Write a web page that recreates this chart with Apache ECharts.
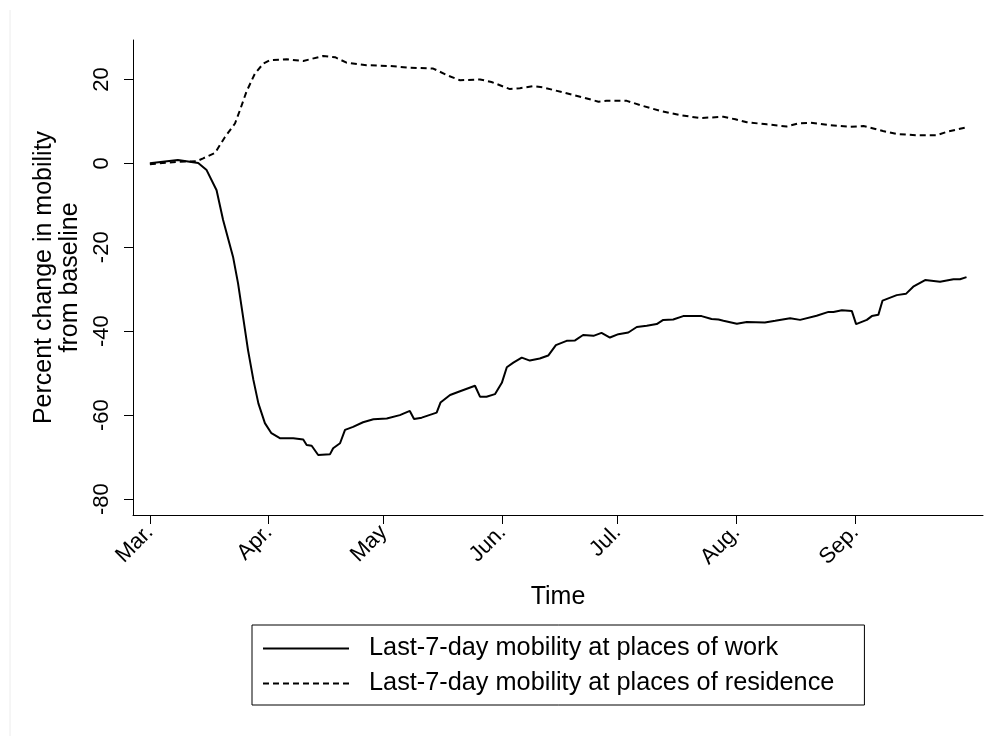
<!DOCTYPE html>
<html>
<head>
<meta charset="utf-8">
<script src="https://cdn.jsdelivr.net/npm/echarts@6/dist/echarts.min.js"></script>
<style>
  html, body { margin: 0; padding: 0; background: #fff; }
  #chart { width: 997px; height: 736px; }
</style>
</head>
<body>
<div id="chart"></div>
<script>
// x values are days since Mar. 1 (day 0)
const monthDays = [0, 31, 61, 92, 122, 153, 184];
const monthLabels = ['Mar.', 'Apr.', 'May', 'Jun.', 'Jul.', 'Aug.', 'Sep.'];
const yTicks = [-80, -60, -40, -20, 0, 20];

// Last-7-day mobility at places of work
const workDays = [0, 7.3, 10.4, 12.6, 14.8, 17.4, 19.1, 21.7, 23.0, 24.3, 25.6, 27.0, 28.3, 30.0, 31.7,
  33.9, 37.4, 40.0, 40.9, 42.2, 43.9, 47.0, 47.8, 49.6, 50.9, 53.0, 55.6, 58.3, 61.8, 65.2, 67.8,
  68.9, 70.9, 74.8, 75.8, 78.3, 80.9, 84.8, 86.1, 87.8, 90.0, 91.8, 93.1, 94.8, 97.0, 99.1, 101.7,
  103.9, 105.9, 108.7, 110.9, 113.0, 115.7, 117.8, 120.0, 122.2, 124.8, 127.0, 129.6, 132.2, 133.9,
  136.5, 139.1, 143.9, 146.5, 148.3, 149.6, 153.1, 155.7, 160.4, 163.1, 167.0, 169.6, 173.9, 177.0,
  178.3, 180.5, 183.1, 184.2, 187.0, 188.3, 190.0, 191.1, 194.8, 197.2, 199.1, 202.2, 206.1, 209.6,
  211.3, 213.0];
const workValues = [0, 0.8, 0.4, 0.1, -1.6, -6.4, -13.5, -22.3, -28.6, -36.5, -44.5, -51.6, -57.2, -61.9, -64.3,
  -65.5, -65.5, -65.8, -67.1, -67.3, -69.5, -69.3, -67.9, -66.7, -63.5, -62.8, -61.7, -61.0, -60.8, -60.0, -59.0,
  -60.9, -60.6, -59.4, -57.0, -55.2, -54.3, -53.0, -55.6, -55.6, -55.0, -52.3, -48.6, -47.5, -46.3, -47.0, -46.5,
  -45.8, -43.3, -42.3, -42.2, -40.9, -41.1, -40.4, -41.5, -40.7, -40.3, -39.0, -38.7, -38.3, -37.3,
  -37.2, -36.4, -36.4, -37.1, -37.2, -37.5, -38.2, -37.8, -37.9, -37.5, -36.9, -37.3, -36.3, -35.4,
  -35.4, -35.0, -35.2, -38.3, -37.3, -36.4, -36.1, -32.7, -31.4, -31.1, -29.4, -27.8, -28.2, -27.6,
  -27.6, -27.1];

// Last-7-day mobility at places of residence
const homeDays = [0, 7.8, 12.2, 13.9, 17.0, 19.6, 22.2, 23.5, 25.2, 27.4, 29.6, 31.3, 35.7, 40.0, 45.2,
  48.3, 51.3, 56.5, 62.6, 67.8, 73.9, 77.8, 80.9, 86.1, 89.1, 93.9, 96.5, 100.0, 102.6, 107.8, 113.0,
  117.0, 119.1, 124.4, 127.8, 133.1, 138.3, 143.5, 149.6, 152.7, 155.7, 160.9, 166.1, 169.1, 172.2,
  177.4, 182.6, 186.1, 188.7, 191.2, 194.8, 200.0, 205.2, 207.8, 213.0];
const homeValues = [-0.2, 0.4, 0.5, 1.2, 2.5, 6.3, 9.5, 12.7, 17.1, 21.4, 23.8, 24.6, 24.8, 24.4, 25.6,
  25.3, 24.0, 23.4, 23.2, 22.8, 22.6, 20.9, 19.8, 20.0, 19.4, 17.7, 17.9, 18.4, 18.1, 16.9, 15.7,
  14.7, 14.9, 14.9, 13.9, 12.5, 11.5, 10.8, 11.1, 10.5, 9.8, 9.3, 8.8, 9.5, 9.7,
  9.1, 8.7, 8.9, 8.3, 7.7, 7.0, 6.7, 6.7, 7.5, 8.6];

const font = '"Liberation Sans", Arial, sans-serif';

const chart = echarts.init(document.getElementById('chart'));
chart.setOption({
  animation: false,
  backgroundColor: '#fff',
  textStyle: { fontFamily: font, color: '#000' },
  grid: { left: 133, right: 14, top: 40, bottom: 221, containLabel: false },
  xAxis: {
    type: 'value',
    min: -4.4,
    max: 217.3,
    name: 'Time',
    nameLocation: 'middle',
    nameGap: 70,
    nameTextStyle: { fontSize: 25, color: '#000', fontFamily: font },
    axisLine: { onZero: false, lineStyle: { color: '#000', width: 1 } },
    axisTick: { customValues: monthDays, length: 9, lineStyle: { color: '#000' } },
    axisLabel: {
      customValues: monthDays,
      rotate: 45,
      margin: 14,
      fontSize: 22,
      color: '#000',
      fontFamily: font,
      formatter: (v) => monthLabels[monthDays.indexOf(v)]
    },
    splitLine: { show: false }
  },
  yAxis: {
    type: 'value',
    min: -83.8,
    max: 29.4,
    name: 'Percent change in mobility\nfrom baseline',
    nameLocation: 'middle',
    nameGap: 42,
    nameTextStyle: { fontSize: 25, lineHeight: 26, color: '#000', fontFamily: font },
    axisLine: { show: true, onZero: false, lineStyle: { color: '#000', width: 1 } },
    axisTick: { show: true, customValues: yTicks, length: 9, lineStyle: { color: '#000' } },
    axisLabel: {
      customValues: yTicks,
      rotate: 90,
      margin: 20,
      fontSize: 22,
      color: '#000',
      fontFamily: font
    },
    splitLine: { show: false }
  },
  legend: {
    orient: 'vertical',
    left: 252,
    top: 625,
    padding: [11, 30, 9, 10],
    itemGap: 10,
    itemWidth: 86,
    itemHeight: 14,
    borderColor: '#000',
    borderWidth: 1,
    itemStyle: { opacity: 0 },
    textStyle: { fontSize: 25.3, lineHeight: 25, color: '#000', fontFamily: font, padding: [0, 0, 0, 15] },
    data: ['Last-7-day mobility at places of work', 'Last-7-day mobility at places of residence']
  },
  graphic: [
    { type: 'line', shape: { x1: 10, y1: 10, x2: 10, y2: 736 }, style: { stroke: '#ececec', lineWidth: 1 } }
  ],
  series: [
    {
      name: 'Last-7-day mobility at places of work',
      type: 'line',
      symbol: 'none',
      data: workDays.map((d, i) => [d, workValues[i]]),
      lineStyle: { color: '#000', width: 2 },
      itemStyle: { color: '#000' }
    },
    {
      name: 'Last-7-day mobility at places of residence',
      type: 'line',
      symbol: 'none',
      data: homeDays.map((d, i) => [d, homeValues[i]]),
      lineStyle: { color: '#000', width: 2, type: [6, 4] },
      itemStyle: { color: '#000' }
    }
  ]
});
</script>
</body>
</html>
